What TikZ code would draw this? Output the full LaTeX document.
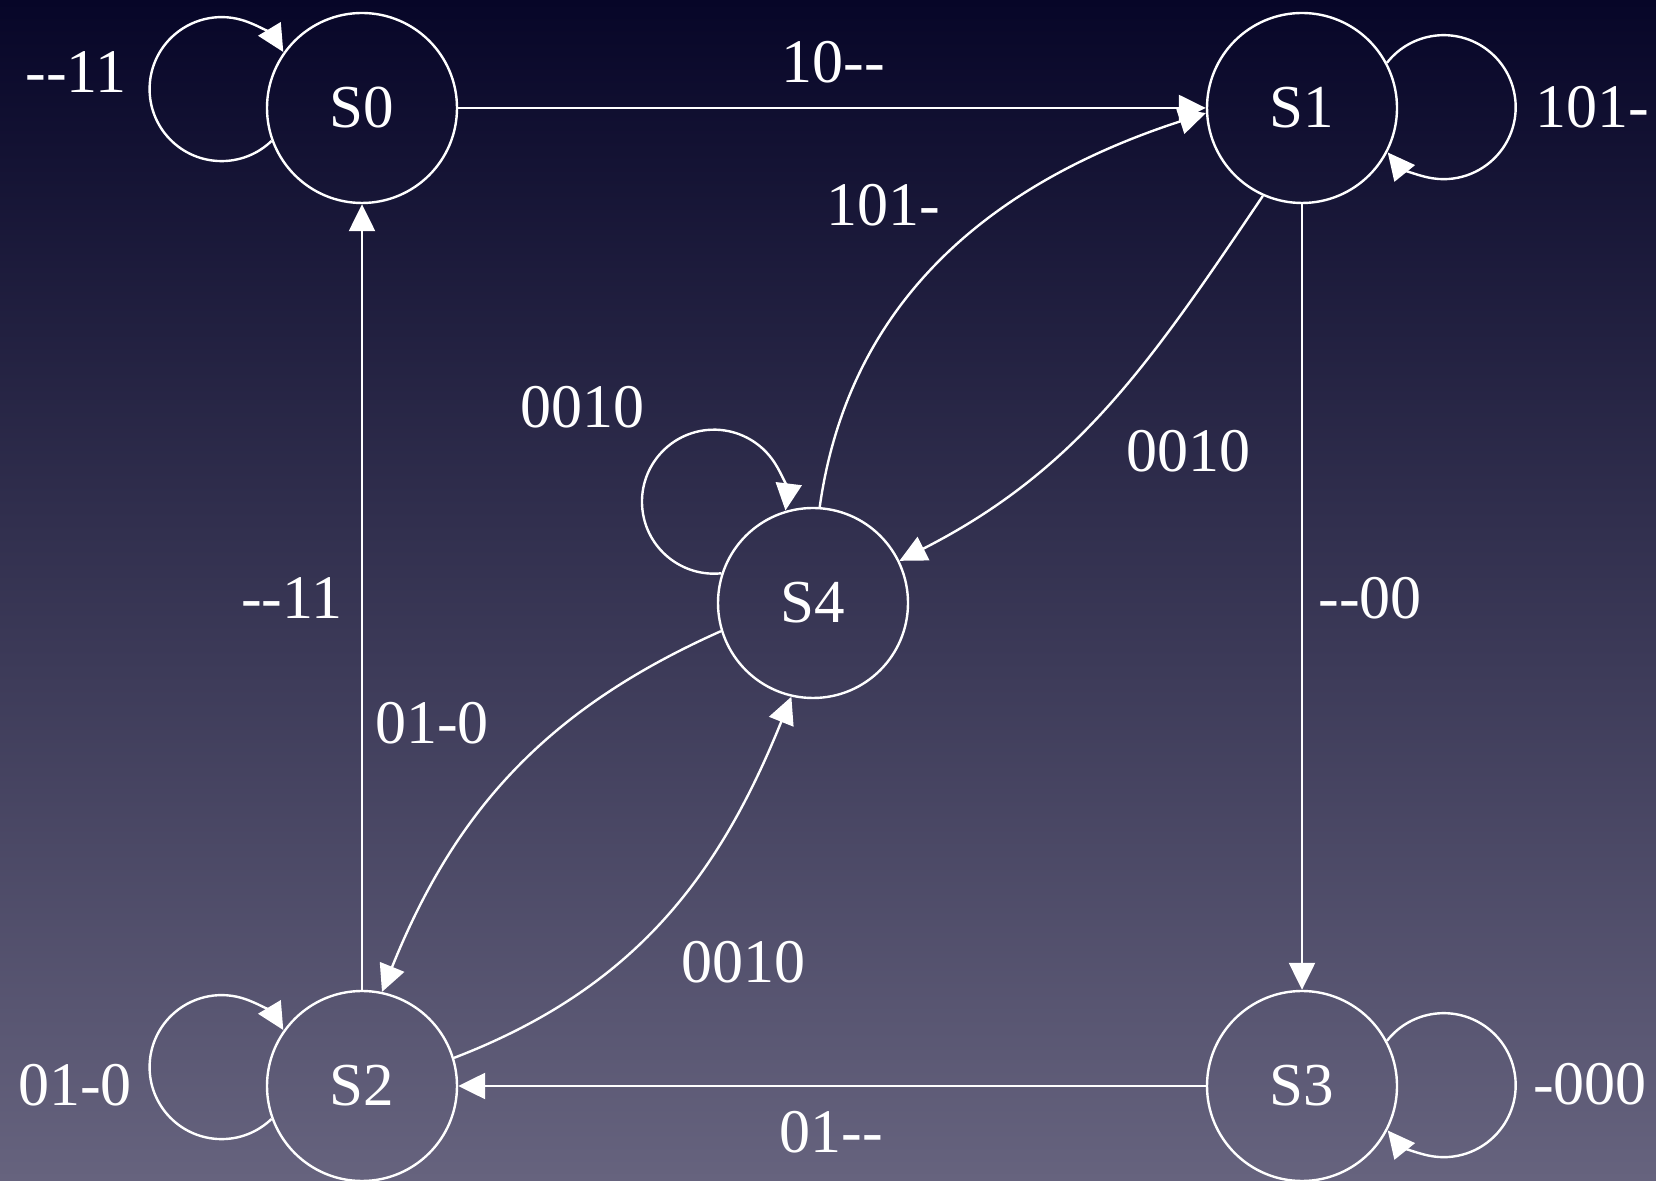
\documentclass[tikz,border=0pt]{standalone}
\usepackage{fontspec}
\newfontfamily\lfont{Liberation Serif}
\usetikzlibrary{arrows.meta}
\definecolor{bgtop}{RGB}{7,6,40}
\definecolor{bgbot}{RGB}{102,99,126}
\begin{document}
\begin{tikzpicture}[x=1pt,y=1pt,
  state/.style={circle, draw=white, line width=2.4pt, minimum size=190pt, inner sep=0pt, text=white, font=\lfont\fontsize{61}{70}\selectfont},
  lbl/.style={text=white, font=\lfont\fontsize{62}{70}\selectfont, inner sep=0pt},
  arr/.style={draw=white, line width=2.4pt, -{Triangle[length=27pt,width=26pt]}},
]
\shade[top color=bgtop, bottom color=bgbot] (0,0) rectangle (1656,1180);
\useasboundingbox (0,0) rectangle (1656,1180);

\node[state] (S0) at (362,1072) {S0};
\node[state] (S1) at (1302,1072) {S1};
\node[state] (S2) at (362,94) {S2};
\node[state] (S3) at (1302,94) {S3};
\node[state] (S4) at (813,577) {S4};

% straight edges
\draw[arr] (S0) -- (S1);
\draw[arr] (S1) -- (S3);
\draw[arr] (S3) -- (S2);
\draw[arr] (S2) -- (S0);

% curved edges
\draw[arr] (S4.86) to[out=82,in=198] (S1.183);
\draw[arr] (S1.246) to[out=236,in=27] (S4.26);
\draw[arr] (S4.197) to[out=204,in=68] (S2.78);
\draw[arr] (S2.17) to[out=21,in=248] (S4.257);

% self loops
\draw[arr] (S0.200) arc[start angle=-46, end angle=-329, radius=72];
\draw[arr] (S2.200) arc[start angle=-46, end angle=-329, radius=72];
\draw[arr] (S1.28) arc[start angle=142, end angle=-141, radius=72];
\draw[arr] (S3.28) arc[start angle=142, end angle=-141, radius=72];
\draw[arr] (S4.162) arc[start angle=-84, end angle=-367, radius=72];

% labels
\node[lbl] (L01) at (833,1118) {10--};
\node[lbl] (L13) at (1370,582) {--00};
\node[lbl] (L32) at (831,48) {01--};
\node[lbl] (L20) at (291.5,582) {--11};
\node[lbl] (L41) at (883,975) {101-};
\node[lbl] (L14) at (1188,729) {0010};
\node[lbl] (L42) at (432,457) {01-0};
\node[lbl] (L24) at (743,218) {0010};
\node[lbl] (L44) at (582,773) {0010};
\node[lbl] (L00) at (76,1107.5) {--11};
\node[lbl] (L11) at (1592,1073) {101-};
\node[lbl] (L22) at (75,95) {01-0};
\node[lbl] (L33) at (1590,96) {-000};
\end{tikzpicture}
\end{document}
